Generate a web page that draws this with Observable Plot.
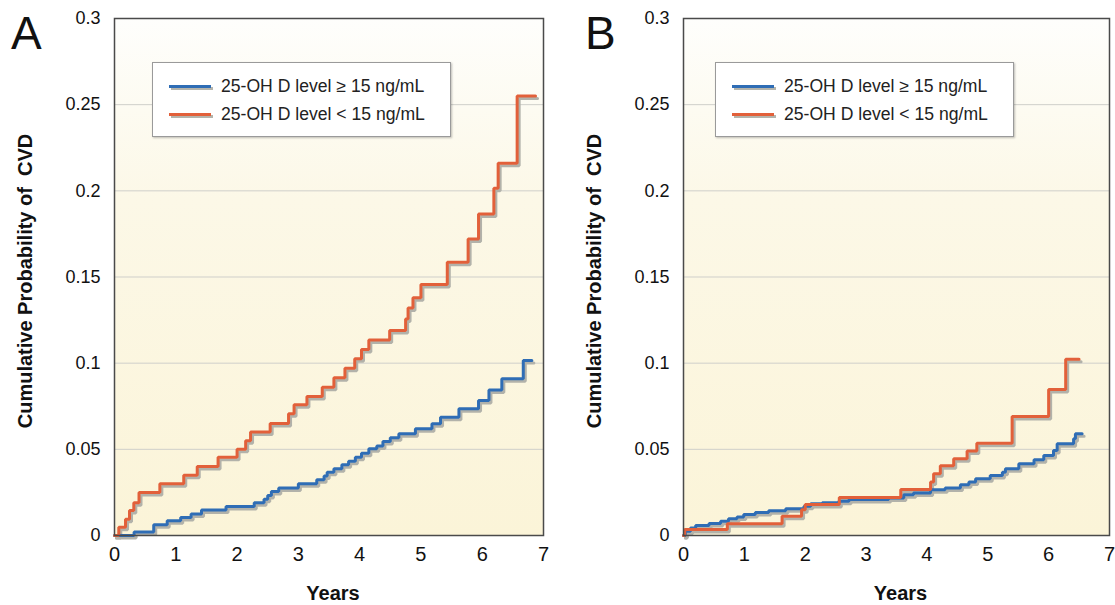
<!DOCTYPE html>
<html>
<head>
<meta charset="utf-8">
<script src="https://cdn.jsdelivr.net/npm/d3@7"></script>
<script src="https://cdn.jsdelivr.net/npm/@observablehq/plot@0.6"></script>
<style>
  html, body { margin: 0; padding: 0; background: #ffffff; }
  #wrap { position: relative; width: 1115px; height: 605px; overflow: hidden; font-family: "Liberation Sans", Arial, sans-serif; }
  .panel { position: absolute; top: 0; }
  .legend { position: absolute; background: #ffffff; border: 1px solid #9a9a9a; box-shadow: 1px 1px 2px rgba(0,0,0,0.25); }
  .legend .row { position: absolute; left: 0; height: 20px; }
  .legend .sw { position: absolute; top: 9px; height: 3px; width: 42px; box-shadow: 2px 2px 0 #b4b4ac; }
  .legend .lab { position: absolute; top: 0; font-size: 17.6px; line-height: 20px; color: #222; white-space: nowrap; }
  .panelLetter { position: absolute; font-size: 46px; line-height: 46px; color: #111; }
</style>
</head>
<body>
<div id="wrap"></div>
<script>
// ---------------- data ----------------
const seriesLabels = ["25-OH D level \u2265 15 ng/mL", "25-OH D level < 15 ng/mL"];
const seriesColors = ["#2f6db5", "#e2603a"];
const panelLetters = ["A", "B"];
const xTicks = [0, 1, 2, 3, 4, 5, 6, 7];
const xTickLabels = ["0", "1", "2", "3", "4", "5", "6", "7"];
const yTicks = [0, 0.05, 0.1, 0.15, 0.2, 0.25, 0.3];
const yTickLabels = ["0", "0.05", "0.1", "0.15", "0.2", "0.25", "0.3"];
const xLabel = "Years";
const yLabel = "Cumulative Probability of  CVD";

// Panel A, 25-OH D >= 15
const aHighYears  = [0, 0.32, 0.64, 0.86, 1.08, 1.25, 1.42, 1.82, 2.28, 2.44, 2.50, 2.56, 2.68, 3.00, 3.30, 3.42, 3.47, 3.58, 3.71, 3.82, 3.93, 4.03, 4.15, 4.28, 4.38, 4.50, 4.64, 4.91, 5.18, 5.32, 5.62, 5.94, 6.11, 6.32, 6.67, 6.81];
const aHighValues = [0, 0.002, 0.0062, 0.0085, 0.0105, 0.0125, 0.0148, 0.0168, 0.019, 0.021, 0.0232, 0.0255, 0.0276, 0.030, 0.0323, 0.0345, 0.0367, 0.0387, 0.041, 0.0431, 0.0454, 0.0478, 0.0503, 0.052, 0.0545, 0.0567, 0.059, 0.0619, 0.0648, 0.0686, 0.0735, 0.0783, 0.0845, 0.0909, 0.1015, 0.1015];
// Panel A, 25-OH D < 15
const aLowYears  = [0, 0.07, 0.18, 0.245, 0.315, 0.40, 0.74, 1.13, 1.35, 1.69, 2.00, 2.14, 2.22, 2.54, 2.84, 2.93, 3.14, 3.39, 3.58, 3.76, 3.92, 4.03, 4.15, 4.49, 4.75, 4.79, 4.87, 5.00, 5.43, 5.77, 5.94, 6.19, 6.26, 6.57, 6.87];
const aLowValues = [0, 0.0048, 0.0095, 0.0145, 0.019, 0.025, 0.030, 0.035, 0.040, 0.0454, 0.050, 0.055, 0.060, 0.065, 0.0706, 0.0758, 0.0806, 0.086, 0.0915, 0.097, 0.1025, 0.108, 0.1135, 0.119, 0.1257, 0.132, 0.138, 0.1456, 0.1585, 0.172, 0.1866, 0.2015, 0.216, 0.255, 0.255];
// Panel B, 25-OH D >= 15
const bHighYears  = [0, 0.03, 0.115, 0.20, 0.42, 0.61, 0.74, 0.88, 0.99, 1.18, 1.40, 1.68, 1.98, 2.09, 2.28, 2.55, 2.72, 3.37, 3.62, 3.78, 4.06, 4.30, 4.55, 4.69, 4.80, 5.04, 5.24, 5.29, 5.51, 5.76, 5.92, 6.08, 6.14, 6.41, 6.44, 6.55];
const bHighValues = [0, 0.0025, 0.0044, 0.0058, 0.007, 0.0083, 0.0097, 0.0108, 0.0122, 0.0133, 0.0143, 0.0155, 0.017, 0.0184, 0.019, 0.0199, 0.0209, 0.0218, 0.0236, 0.0247, 0.0265, 0.0276, 0.0294, 0.031, 0.0329, 0.0348, 0.0367, 0.0387, 0.0416, 0.0439, 0.0464, 0.0493, 0.0532, 0.0561, 0.059, 0.059];
// Panel B, 25-OH D < 15
const bLowYears  = [0, 0.02, 0.72, 1.62, 1.94, 2.00, 2.56, 3.57, 4.06, 4.11, 4.22, 4.44, 4.66, 4.82, 5.40, 6.00, 6.28, 6.50];
const bLowValues = [0, 0.0035, 0.0068, 0.0112, 0.015, 0.018, 0.022, 0.0267, 0.031, 0.0358, 0.0405, 0.0445, 0.049, 0.0536, 0.069, 0.0847, 0.1023, 0.1023];

// ---------------- build ----------------
function toRows(years, values) { return years.map((x, i) => ({x, y: values[i]})); }

const panels = [
  {id: "A", left: 0,   width: 557, marginLeft: 114, marginRight: 14,
   high: toRows(aHighYears, aHighValues), low: toRows(aLowYears, aLowValues),
   legend: {left: 152, top: 62}},
  {id: "B", left: 557, width: 558, marginLeft: 126, marginRight: 6,
   high: toRows(bHighYears, bHighValues), low: toRows(bLowYears, bLowValues),
   legend: {left: 715, top: 62}}
];

const wrap = document.getElementById("wrap");

panels.forEach((p, pi) => {
  const gradId = "bg" + p.id;
  const lineMarks = [];
  [p.high, p.low].forEach((rows) => {
    lineMarks.push(Plot.line(rows, {x: "x", y: "y", curve: "step-after", stroke: "#b2b2aa", strokeWidth: 3, dx: 2, dy: 2.5, strokeLinejoin: "miter"}));
  });
  [p.high, p.low].forEach((rows, si) => {
    lineMarks.push(Plot.line(rows, {x: "x", y: "y", curve: "step-after", stroke: seriesColors[si], strokeWidth: 3, strokeLinejoin: "miter"}));
  });

  const chart = Plot.plot({
    width: p.width,
    height: 605,
    marginLeft: p.marginLeft,
    marginRight: p.marginRight,
    marginTop: 18,
    marginBottom: 70,
    style: {background: "transparent", overflow: "visible"},
    x: {domain: [0, 7], label: null},
    y: {domain: [0, 0.3], label: null},
    marks: [
      Plot.frame({fill: `url(#${gradId})`, stroke: null}),
      Plot.ruleY(yTicks.slice(1, -1), {stroke: "#cfcfca", strokeWidth: 1}),
      ...lineMarks,
      Plot.frame({stroke: "#4a4a4a", strokeWidth: 1.5}),
      Plot.axisX({ticks: xTicks, tickSize: 0, tickPadding: 11, fontSize: 20,
                  tickFormat: (d) => xTickLabels[xTicks.indexOf(d)],
                  fontFamily: "'Liberation Sans Narrow', 'Arial Narrow', 'Liberation Sans', sans-serif", fill: "#111"}),
      Plot.axisY({ticks: yTicks, tickSize: 0, tickPadding: 14, fontSize: 18,
                  tickFormat: (d) => yTickLabels[yTicks.indexOf(d)], fill: "#111"}),
      Plot.text([xLabel], {frameAnchor: "bottom", dy: 58, dx: 4, fontSize: 20, fontWeight: "bold",
                           fill: "#111", lineAnchor: "middle", textAnchor: "middle"}),
      Plot.text([yLabel], {frameAnchor: "left", rotate: -90, dx: -89, dy: 4, fontSize: 20, fontWeight: "bold",
                           fill: "#111", lineAnchor: "middle", textAnchor: "middle"})
    ]
  });

  // gradient background definition
  const svg = d3.select(chart);
  const defs = svg.insert("defs", ":first-child");
  const g = defs.append("linearGradient").attr("id", gradId)
    .attr("x1", 0).attr("y1", 0).attr("x2", 0).attr("y2", 1);
  g.append("stop").attr("offset", "0%").attr("stop-color", "#fefefc");
  g.append("stop").attr("offset", "35%").attr("stop-color", "#fcf8e7");
  g.append("stop").attr("offset", "100%").attr("stop-color", "#fbf4d8");
  svg.style("font-family", "'Liberation Sans', Arial, sans-serif");

  const holder = document.createElement("div");
  holder.className = "panel";
  holder.style.left = p.left + "px";
  holder.appendChild(chart);
  wrap.appendChild(holder);

  // panel letter
  const letter = document.createElement("div");
  letter.className = "panelLetter";
  letter.textContent = panelLetters[pi];
  letter.style.left = (p.left + (pi === 0 ? 11 : 28)) + "px";
  letter.style.top = "10px";
  wrap.appendChild(letter);

  // legend
  const lg = document.createElement("div");
  lg.className = "legend";
  lg.style.left = p.legend.left + "px";
  lg.style.top = p.legend.top + "px";
  lg.style.width = "297px";
  lg.style.height = "73px";
  seriesLabels.forEach((lab, si) => {
    const row = document.createElement("div");
    row.className = "row";
    row.style.top = (13 + si * 28) + "px";
    const sw = document.createElement("div");
    sw.className = "sw";
    sw.style.left = "16px";
    sw.style.background = seriesColors[si];
    const tx = document.createElement("div");
    tx.className = "lab";
    tx.style.left = "68px";
    tx.textContent = lab;
    row.appendChild(sw);
    row.appendChild(tx);
    lg.appendChild(row);
  });
  wrap.appendChild(lg);
});
</script>
</body>
</html>
